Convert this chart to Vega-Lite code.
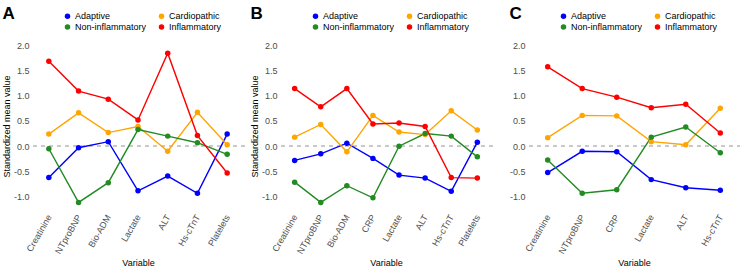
{
  "$schema": "https://vega.github.io/schema/vega-lite/v6.json",
  "background": "white",
  "padding": {"left": 2, "top": 4, "right": 0, "bottom": 0},
  "spacing": 34,
  "bounds": "flush",
  "config": {
    "font": "Liberation Sans",
    "view": {"stroke": null},
    "axis": {
      "grid": false, "domain": false, "ticks": false,
      "labelFont": "Liberation Sans", "labelFontSize": 9, "labelColor": "#4D4D4D",
      "titleFont": "Liberation Sans", "titleFontSize": 9, "titleFontWeight": "normal", "titleColor": "#000000"
    },
    "legend": {
      "orient": "none", "legendX": 32, "legendY": -28.5, "columns": 2, "direction": "horizontal", "title": null,
      "symbolType": "circle", "symbolSize": 30, "symbolStrokeWidth": 0,
      "labelFont": "Liberation Sans", "labelFontSize": 9, "labelColor": "#000000",
      "labelOffset": 3, "columnPadding": 10, "rowPadding": 1, "padding": 0
    },
    "title": {"anchor": "start", "frame": "bounds", "fontSize": 17, "fontWeight": "bold", "font": "Liberation Sans", "color": "#000000", "offset": -11}
  },
  "resolve": {"legend": {"color": "independent"}},
  "datasets": {
    "A": [
      {"variable": "Creatinine", "group": "Adaptive", "value": -0.62},
      {"variable": "NTproBNP", "group": "Adaptive", "value": -0.03},
      {"variable": "Bio-ADM", "group": "Adaptive", "value": 0.09},
      {"variable": "Lactate", "group": "Adaptive", "value": -0.88},
      {"variable": "ALT", "group": "Adaptive", "value": -0.59},
      {"variable": "Hs-cTnT", "group": "Adaptive", "value": -0.93},
      {"variable": "Platelets", "group": "Adaptive", "value": 0.24},
      {"variable": "Creatinine", "group": "Cardiopathic", "value": 0.24},
      {"variable": "NTproBNP", "group": "Cardiopathic", "value": 0.66},
      {"variable": "Bio-ADM", "group": "Cardiopathic", "value": 0.27},
      {"variable": "Lactate", "group": "Cardiopathic", "value": 0.39},
      {"variable": "ALT", "group": "Cardiopathic", "value": -0.10},
      {"variable": "Hs-cTnT", "group": "Cardiopathic", "value": 0.67},
      {"variable": "Platelets", "group": "Cardiopathic", "value": 0.03},
      {"variable": "Creatinine", "group": "Non-inflammatory", "value": -0.05},
      {"variable": "NTproBNP", "group": "Non-inflammatory", "value": -1.11},
      {"variable": "Bio-ADM", "group": "Non-inflammatory", "value": -0.72},
      {"variable": "Lactate", "group": "Non-inflammatory", "value": 0.33},
      {"variable": "ALT", "group": "Non-inflammatory", "value": 0.20},
      {"variable": "Hs-cTnT", "group": "Non-inflammatory", "value": 0.07},
      {"variable": "Platelets", "group": "Non-inflammatory", "value": -0.16},
      {"variable": "Creatinine", "group": "Inflammatory", "value": 1.68},
      {"variable": "NTproBNP", "group": "Inflammatory", "value": 1.09},
      {"variable": "Bio-ADM", "group": "Inflammatory", "value": 0.93},
      {"variable": "Lactate", "group": "Inflammatory", "value": 0.52},
      {"variable": "ALT", "group": "Inflammatory", "value": 1.84},
      {"variable": "Hs-cTnT", "group": "Inflammatory", "value": 0.21},
      {"variable": "Platelets", "group": "Inflammatory", "value": -0.53}
    ],
    "B": [
      {"variable": "Creatinine", "group": "Adaptive", "value": -0.28},
      {"variable": "NTproBNP", "group": "Adaptive", "value": -0.15},
      {"variable": "Bio-ADM", "group": "Adaptive", "value": 0.06},
      {"variable": "CRP", "group": "Adaptive", "value": -0.24},
      {"variable": "Lactate", "group": "Adaptive", "value": -0.57},
      {"variable": "ALT", "group": "Adaptive", "value": -0.63},
      {"variable": "Hs-cTnT", "group": "Adaptive", "value": -0.89},
      {"variable": "Platelets", "group": "Adaptive", "value": 0.08},
      {"variable": "Creatinine", "group": "Cardiopathic", "value": 0.18},
      {"variable": "NTproBNP", "group": "Cardiopathic", "value": 0.43},
      {"variable": "Bio-ADM", "group": "Cardiopathic", "value": -0.11},
      {"variable": "CRP", "group": "Cardiopathic", "value": 0.61},
      {"variable": "Lactate", "group": "Cardiopathic", "value": 0.28},
      {"variable": "ALT", "group": "Cardiopathic", "value": 0.23},
      {"variable": "Hs-cTnT", "group": "Cardiopathic", "value": 0.70},
      {"variable": "Platelets", "group": "Cardiopathic", "value": 0.32},
      {"variable": "Creatinine", "group": "Non-inflammatory", "value": -0.71},
      {"variable": "NTproBNP", "group": "Non-inflammatory", "value": -1.11},
      {"variable": "Bio-ADM", "group": "Non-inflammatory", "value": -0.78},
      {"variable": "CRP", "group": "Non-inflammatory", "value": -1.02},
      {"variable": "Lactate", "group": "Non-inflammatory", "value": 0.00},
      {"variable": "ALT", "group": "Non-inflammatory", "value": 0.25},
      {"variable": "Hs-cTnT", "group": "Non-inflammatory", "value": 0.20},
      {"variable": "Platelets", "group": "Non-inflammatory", "value": -0.21},
      {"variable": "Creatinine", "group": "Inflammatory", "value": 1.14},
      {"variable": "NTproBNP", "group": "Inflammatory", "value": 0.78},
      {"variable": "Bio-ADM", "group": "Inflammatory", "value": 1.14},
      {"variable": "CRP", "group": "Inflammatory", "value": 0.44},
      {"variable": "Lactate", "group": "Inflammatory", "value": 0.46},
      {"variable": "ALT", "group": "Inflammatory", "value": 0.39},
      {"variable": "Hs-cTnT", "group": "Inflammatory", "value": -0.62},
      {"variable": "Platelets", "group": "Inflammatory", "value": -0.63}
    ],
    "C": [
      {"variable": "Creatinine", "group": "Adaptive", "value": -0.52},
      {"variable": "NTproBNP", "group": "Adaptive", "value": -0.10},
      {"variable": "CRP", "group": "Adaptive", "value": -0.11},
      {"variable": "Lactate", "group": "Adaptive", "value": -0.66},
      {"variable": "ALT", "group": "Adaptive", "value": -0.82},
      {"variable": "Hs-cTnT", "group": "Adaptive", "value": -0.87},
      {"variable": "Creatinine", "group": "Cardiopathic", "value": 0.17},
      {"variable": "NTproBNP", "group": "Cardiopathic", "value": 0.61},
      {"variable": "CRP", "group": "Cardiopathic", "value": 0.60},
      {"variable": "Lactate", "group": "Cardiopathic", "value": 0.09},
      {"variable": "ALT", "group": "Cardiopathic", "value": 0.03},
      {"variable": "Hs-cTnT", "group": "Cardiopathic", "value": 0.75},
      {"variable": "Creatinine", "group": "Non-inflammatory", "value": -0.27},
      {"variable": "NTproBNP", "group": "Non-inflammatory", "value": -0.93},
      {"variable": "CRP", "group": "Non-inflammatory", "value": -0.86},
      {"variable": "Lactate", "group": "Non-inflammatory", "value": 0.18},
      {"variable": "ALT", "group": "Non-inflammatory", "value": 0.38},
      {"variable": "Hs-cTnT", "group": "Non-inflammatory", "value": -0.13},
      {"variable": "Creatinine", "group": "Inflammatory", "value": 1.57},
      {"variable": "NTproBNP", "group": "Inflammatory", "value": 1.14},
      {"variable": "CRP", "group": "Inflammatory", "value": 0.97},
      {"variable": "Lactate", "group": "Inflammatory", "value": 0.76},
      {"variable": "ALT", "group": "Inflammatory", "value": 0.83},
      {"variable": "Hs-cTnT", "group": "Inflammatory", "value": 0.26}
    ]
  },
  "hconcat": [
    {
      "title": "A",
      "width": 214, "height": 172,
      "data": {"name": "A"},
      "encoding": {
        "x": {"field": "variable", "type": "nominal", "sort": ["Creatinine", "NTproBNP", "Bio-ADM", "Lactate", "ALT", "Hs-cTnT", "Platelets"],
              "scale": {"type": "point", "padding": 0.6},
              "axis": {"title": "Variable", "labelAngle": -60, "labelAlign": "right", "labelBaseline": "middle", "labelPadding": 3, "titlePadding": 3}},
        "y": {"field": "value", "type": "quantitative", "scale": {"domain": [-1.3, 2.1], "nice": false, "zero": false},
              "axis": {"values": [-1, -0.5, 0, 0.5, 1, 1.5, 2], "labelExpr": "replace(format(datum.value, '.1f'), '\u2212', '-')", "title": "Standardized mean value", "labelPadding": 2, "titlePadding": 2}},
        "color": {"field": "group", "type": "nominal",
                  "scale": {"domain": ["Adaptive", "Cardiopathic", "Non-inflammatory", "Inflammatory"], "range": ["#0000FF", "#FFA500", "#228B22", "#FF0000"]}}
      },
      "layer": [
        {"mark": {"type": "rule", "strokeDash": [4, 4], "color": "#C8C8C8", "strokeWidth": 1}, "encoding": {"y": {"datum": 0}, "x": null, "color": null}},
        {"mark": {"type": "line", "strokeWidth": 1.4}},
        {"mark": {"type": "point", "filled": true, "size": 30, "opacity": 1}}
      ]
    },
    {
      "title": "B",
      "width": 214, "height": 172,
      "data": {"name": "B"},
      "encoding": {
        "x": {"field": "variable", "type": "nominal", "sort": ["Creatinine", "NTproBNP", "Bio-ADM", "CRP", "Lactate", "ALT", "Hs-cTnT", "Platelets"],
              "scale": {"type": "point", "padding": 0.6},
              "axis": {"title": "Variable", "labelAngle": -60, "labelAlign": "right", "labelBaseline": "middle", "labelPadding": 3, "titlePadding": 3}},
        "y": {"field": "value", "type": "quantitative", "scale": {"domain": [-1.3, 2.1], "nice": false, "zero": false},
              "axis": {"values": [-1, -0.5, 0, 0.5, 1, 1.5, 2], "labelExpr": "replace(format(datum.value, '.1f'), '\u2212', '-')", "title": "Standardized mean value", "labelPadding": 2, "titlePadding": 2}},
        "color": {"field": "group", "type": "nominal",
                  "scale": {"domain": ["Adaptive", "Cardiopathic", "Non-inflammatory", "Inflammatory"], "range": ["#0000FF", "#FFA500", "#228B22", "#FF0000"]}}
      },
      "layer": [
        {"mark": {"type": "rule", "strokeDash": [4, 4], "color": "#C8C8C8", "strokeWidth": 1}, "encoding": {"y": {"datum": 0}, "x": null, "color": null}},
        {"mark": {"type": "line", "strokeWidth": 1.4}},
        {"mark": {"type": "point", "filled": true, "size": 30, "opacity": 1}}
      ]
    },
    {
      "title": "C",
      "width": 214, "height": 172,
      "data": {"name": "C"},
      "encoding": {
        "x": {"field": "variable", "type": "nominal", "sort": ["Creatinine", "NTproBNP", "CRP", "Lactate", "ALT", "Hs-cTnT"],
              "scale": {"type": "point", "padding": 0.6},
              "axis": {"title": "Variable", "labelAngle": -60, "labelAlign": "right", "labelBaseline": "middle", "labelPadding": 3, "titlePadding": 3}},
        "y": {"field": "value", "type": "quantitative", "scale": {"domain": [-1.3, 2.1], "nice": false, "zero": false},
              "axis": {"values": [-1, -0.5, 0, 0.5, 1, 1.5, 2], "labelExpr": "replace(format(datum.value, '.1f'), '\u2212', '-')", "title": null, "labelPadding": 2}},
        "color": {"field": "group", "type": "nominal",
                  "scale": {"domain": ["Adaptive", "Cardiopathic", "Non-inflammatory", "Inflammatory"], "range": ["#0000FF", "#FFA500", "#228B22", "#FF0000"]}}
      },
      "layer": [
        {"mark": {"type": "rule", "strokeDash": [4, 4], "color": "#C8C8C8", "strokeWidth": 1}, "encoding": {"y": {"datum": 0}, "x": null, "color": null}},
        {"mark": {"type": "line", "strokeWidth": 1.4}},
        {"mark": {"type": "point", "filled": true, "size": 30, "opacity": 1}}
      ]
    }
  ]
}
